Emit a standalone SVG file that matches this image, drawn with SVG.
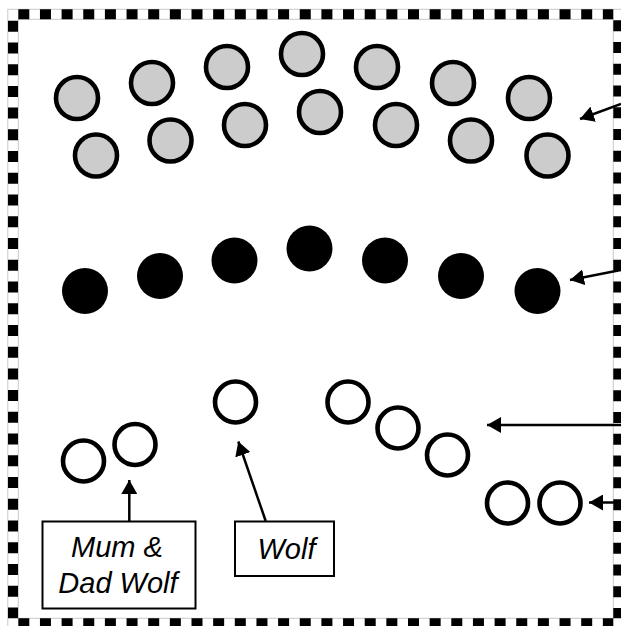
<svg xmlns="http://www.w3.org/2000/svg" width="621" height="626" viewBox="0 0 621 626">
<style>
.edge{fill:none;stroke:#c8c8c8;stroke-width:1}
.band{fill:none;stroke:#000;stroke-width:10}
.gray{fill:#cccccc;stroke:#000;stroke-width:4.6}
.black{fill:#000;stroke:none}
.white{fill:#fff;stroke:#000;stroke-width:4.6}
.box{fill:#fff;stroke:#000;stroke-width:2}
.conn{stroke:#000;stroke-width:2.5;fill:none}
.lbl{font-family:"Liberation Sans",Arial,sans-serif;font-style:italic;font-size:29px;fill:#000;text-anchor:middle}
</style>
<defs>
<marker id="ah" viewBox="0 0 14 16" refX="14" refY="8" markerWidth="14" markerHeight="16" markerUnits="userSpaceOnUse" orient="auto">
<path d="M0,0 L14,8 L0,16 Z" fill="#000"/>
</marker>
</defs>
<rect width="621" height="626" fill="#fff"/>
<g id="frame">
<rect class="edge" x="7.8" y="9.3" width="615.5" height="619"/>
<rect class="edge" x="18.3" y="19.3" width="595" height="599"/>
<line class="band" x1="18.3" y1="14.3" x2="613.3" y2="14.3" stroke-dasharray="11 10.65"/>
<line class="band" x1="18.3" y1="623.3" x2="613.3" y2="623.3" stroke-dasharray="11 10.65"/>
<line class="band" x1="13" y1="20.7" x2="13" y2="618.3" stroke-dasharray="11 10.73"/>
<line class="band" x1="618.3" y1="20.2" x2="618.3" y2="618.3" stroke-dasharray="11 10.77"/>
</g>
<g id="grey-group">
<circle class="gray" cx="77" cy="98" r="21"/>
<circle class="gray" cx="152" cy="83" r="21"/>
<circle class="gray" cx="227" cy="67" r="21"/>
<circle class="gray" cx="302" cy="54" r="21"/>
<circle class="gray" cx="377" cy="67" r="21"/>
<circle class="gray" cx="453" cy="83" r="21"/>
<circle class="gray" cx="529" cy="98" r="21"/>
<circle class="gray" cx="96" cy="155.5" r="21"/>
<circle class="gray" cx="170.5" cy="140.5" r="21"/>
<circle class="gray" cx="245" cy="125" r="21"/>
<circle class="gray" cx="320" cy="112" r="21"/>
<circle class="gray" cx="396" cy="125" r="21"/>
<circle class="gray" cx="471" cy="140.5" r="21"/>
<circle class="gray" cx="547.5" cy="155.5" r="21"/>
</g>
<g id="black-group">
<circle class="black" cx="85" cy="291" r="23"/>
<circle class="black" cx="160" cy="276" r="23"/>
<circle class="black" cx="234.5" cy="260.5" r="23"/>
<circle class="black" cx="309.5" cy="248.5" r="23"/>
<circle class="black" cx="385" cy="260.5" r="23"/>
<circle class="black" cx="461" cy="276" r="23"/>
<circle class="black" cx="537.5" cy="291" r="23"/>
</g>
<g id="mum-dad-circles">
<circle class="white" cx="83.5" cy="461" r="20.5"/>
<circle class="white" cx="135" cy="444.5" r="20.5"/>
</g>
<g id="wolf-circle">
<circle class="white" cx="235.5" cy="402" r="20.5"/>
</g>
<g id="chain-circles">
<circle class="white" cx="348" cy="402" r="20.5"/>
<circle class="white" cx="398" cy="428" r="20.5"/>
<circle class="white" cx="447.5" cy="455" r="20.5"/>
</g>
<g id="pair-circles">
<circle class="white" cx="507.5" cy="503" r="20.5"/>
<circle class="white" cx="560" cy="503" r="20.5"/>
</g>
<g id="mum-dad-label">
<rect class="box" x="42.5" y="521.5" width="153" height="87"/>
<text class="lbl" x="117" y="557">Mum &amp;</text>
<text class="lbl" x="118" y="592.5">Dad Wolf</text>
</g>
<g id="wolf-label">
<rect class="box" x="235" y="521.5" width="99" height="54.5"/>
<text class="lbl" x="286.5" y="559">Wolf</text>
</g>
<g id="connectors">
<line class="conn" x1="621" y1="104" x2="580" y2="119" marker-end="url(#ah)"/>
<line class="conn" x1="621" y1="270" x2="570" y2="280" marker-end="url(#ah)"/>
<line class="conn" x1="621" y1="425" x2="487" y2="425" marker-end="url(#ah)"/>
<line class="conn" x1="621" y1="502.5" x2="589" y2="502.5" marker-end="url(#ah)"/>
<line class="conn" x1="129.3" y1="521" x2="129.3" y2="480" marker-end="url(#ah)"/>
<line class="conn" x1="265.7" y1="521" x2="238.3" y2="441.5" marker-end="url(#ah)"/>
</g>
</svg>
